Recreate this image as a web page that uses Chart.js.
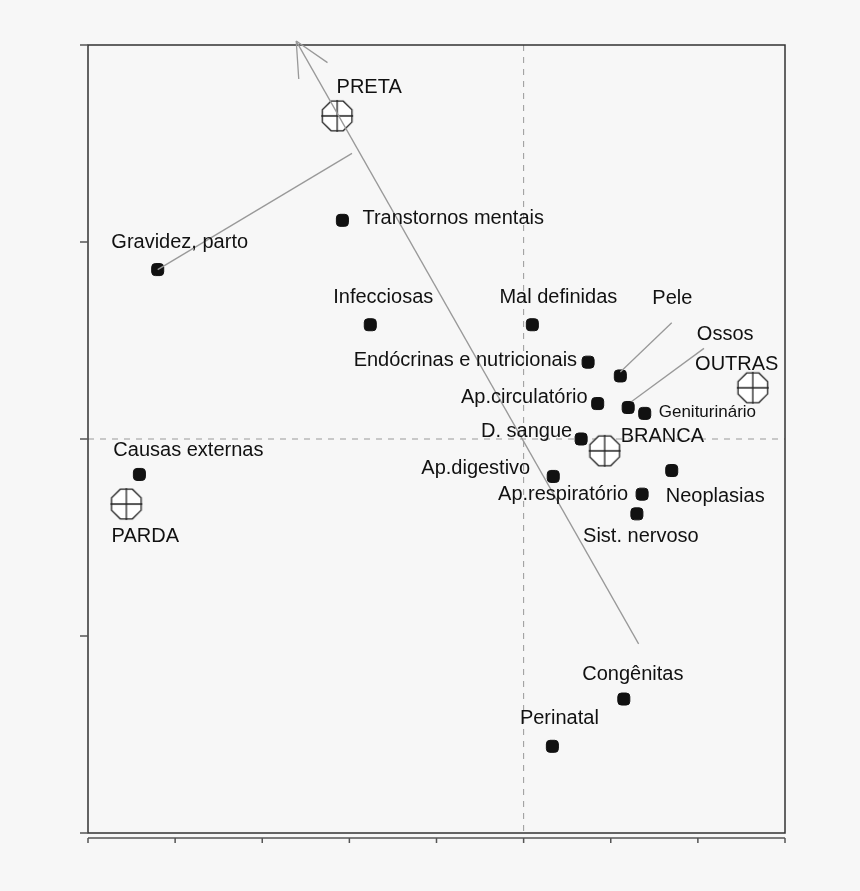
<!DOCTYPE html>
<html>
<head>
<meta charset="utf-8">
<script src="https://cdn.jsdelivr.net/npm/chart.js@4"></script>
<style>
  html, body { margin: 0; padding: 0; background: #f7f7f7; }
  #wrap { width: 860px; height: 891px; }
</style>
</head>
<body>
<div id="wrap"><canvas id="c" width="860" height="891"></canvas></div>
<script>
// categories (causes of death) and their coordinates
const causes = ["Transtornos mentais", "Gravidez, parto", "Infecciosas", "Mal definidas",
  "Endócrinas e nutricionais", "Pele", "Ap.circulatório", "Ossos", "Geniturinário",
  "D. sangue", "Causas externas", "Ap.digestivo", "Neoplasias", "Ap.respiratório",
  "Sist. nervoso", "Congênitas", "Perinatal"];
const causeX = [-2.08, -4.20, -1.76, 0.10, 0.74, 1.11, 0.85, 1.20, 1.39, 0.66, -4.41, 0.34, 1.70, 1.36, 1.30, 1.15, 0.33];
const causeY = [1.11, 0.86, 0.58, 0.58, 0.39, 0.32, 0.18, 0.16, 0.13, 0.00, -0.18, -0.19, -0.16, -0.28, -0.38, -1.32, -1.56];

// race groups
const races = ["PRETA", "OUTRAS", "BRANCA", "PARDA"];
const raceX = [-2.14, 2.63, 0.93, -4.56];
const raceY = [1.64, 0.26, -0.06, -0.33];

// supplementary arrow and leader lines
const arrowX = [1.32, -2.61];
const arrowY = [-1.04, 2.02];
const leaders = [
  { x: [-4.20, -1.97], y: [0.86, 1.45] },
  { x: [1.11, 1.70], y: [0.34, 0.59] },
  { x: [1.24, 2.07], y: [0.19, 0.46] }
];

const xTicks = [-5, -4, -3, -2, -1, 0, 1, 2, 3];
const yTicks = [-2, -1, 0, 1, 2];

// label placement (pixel offsets, align, font size)
const causeLabelPos = [
  [20, -2, "left"], [22, -27, "center"], [13, -27, "center"], [26, -27, "center"],
  [-11, -2, "right"], [52, -77, "center"], [-10, -6, "right"], [97, -73, "center"],
  [14, -1, "left", 17], [-9, -8, "right"], [49, -24, "center"], [-23, -8, "right"],
  [-6, 26, "left"], [-14, 0, "right"], [4, 23, "center"], [9, -25, "center"], [7, -28, "center"]
];
const raceLabelPos = [[32, -28, "center"], [-16, -23, "center"], [16, -14, "left"], [19, 32, "center"]];

// octagon marker with a cross
const oct = document.createElement("canvas");
oct.width = 36; oct.height = 36;
(function () {
  const g = oct.getContext("2d");
  const cx = 18, cy = 18, r = 16;
  g.beginPath();
  for (let i = 0; i < 8; i++) {
    const a = Math.PI / 8 + i * Math.PI / 4;
    const px = cx + r * Math.cos(a), py = cy + r * Math.sin(a);
    i ? g.lineTo(px, py) : g.moveTo(px, py);
  }
  g.closePath();
  g.fillStyle = "#fff";
  g.fill();
  g.lineWidth = 1.3;
  g.strokeStyle = "#222";
  g.stroke();
  g.beginPath();
  g.moveTo(cx - r, cy); g.lineTo(cx + r, cy);
  g.moveTo(cx, cy - r); g.lineTo(cx, cy + r);
  g.stroke();
})();

const toPts = (xs, ys) => xs.map((x, i) => ({ x: x, y: ys[i] }));

const decor = {
  id: "decor",
  beforeDatasetsDraw(chart) {
    const { ctx, chartArea: a, scales: { x, y } } = chart;
    ctx.save();
    // dashed reference lines
    ctx.strokeStyle = "#999";
    ctx.lineWidth = 1;
    ctx.setLineDash([6, 6]);
    ctx.beginPath();
    ctx.moveTo(x.getPixelForValue(0), a.top); ctx.lineTo(x.getPixelForValue(0), a.bottom);
    ctx.moveTo(a.left, y.getPixelForValue(0)); ctx.lineTo(a.right, y.getPixelForValue(0));
    ctx.stroke();
    ctx.setLineDash([]);
    // frame
    ctx.strokeStyle = "#333";
    ctx.lineWidth = 1.5;
    ctx.strokeRect(a.left, a.top, a.right - a.left, a.bottom - a.top);
    ctx.strokeStyle = "#555";
    ctx.beginPath();
    ctx.moveTo(a.left, a.bottom + 5); ctx.lineTo(a.right, a.bottom + 5);
    xTicks.forEach(t => {
      const px = x.getPixelForValue(t);
      ctx.moveTo(px, a.bottom + 5); ctx.lineTo(px, a.bottom + 10);
    });
    yTicks.forEach(t => {
      const py = y.getPixelForValue(t);
      ctx.moveTo(a.left - 8, py); ctx.lineTo(a.left, py);
    });
    ctx.stroke();
    ctx.restore();
  },
  afterDatasetsDraw(chart) {
    const { ctx, scales: { x, y } } = chart;
    ctx.save();
    // arrowhead
    const x0 = x.getPixelForValue(arrowX[0]), y0 = y.getPixelForValue(arrowY[0]);
    const x1 = x.getPixelForValue(arrowX[1]), y1 = y.getPixelForValue(arrowY[1]);
    const ang = Math.atan2(y1 - y0, x1 - x0);
    ctx.strokeStyle = "#999";
    ctx.lineWidth = 1.3;
    ctx.beginPath();
    [0.45, -0.45].forEach(d => {
      ctx.moveTo(x1, y1);
      ctx.lineTo(x1 - 38 * Math.cos(ang + d), y1 - 38 * Math.sin(ang + d));
    });
    ctx.stroke();
    // labels
    ctx.fillStyle = "#111";
    ctx.textBaseline = "middle";
    const put = (names, xs, ys, pos) => names.forEach((n, i) => {
      const p = pos[i];
      ctx.font = (p[3] || 20) + "px 'Liberation Sans', Arial, sans-serif";
      ctx.textAlign = p[2];
      ctx.fillText(n, x.getPixelForValue(xs[i]) + p[0], y.getPixelForValue(ys[i]) + p[1]);
    });
    put(causes, causeX, causeY, causeLabelPos);
    put(races, raceX, raceY, raceLabelPos);
    ctx.restore();
  }
};

const lineSet = (xs, ys) => ({
  type: "line", data: toPts(xs, ys), borderColor: "#999", borderWidth: 1.3,
  pointRadius: 0, showLine: true, fill: false, clip: false
});

new Chart(document.getElementById("c"), {
  type: "scatter",
  data: {
    datasets: [
      lineSet(arrowX, arrowY),
      ...leaders.map(l => lineSet(l.x, l.y)),
      {
        data: toPts(causeX, causeY), pointStyle: "rectRounded", pointRadius: 7,
        backgroundColor: "#111", borderColor: "#111", borderWidth: 1
      },
      {
        data: toPts(raceX, raceY), pointStyle: oct, pointRadius: 18
      }
    ]
  },
  options: {
    responsive: false,
    animation: false,
    events: [],
    layout: { padding: { left: 80, right: 75, top: 45, bottom: 50 } },
    plugins: { legend: { display: false }, tooltip: { enabled: false } },
    scales: {
      x: { min: -5, max: 3, ticks: { display: false }, grid: { display: false }, border: { display: false } },
      y: { min: -2, max: 2, ticks: { display: false }, grid: { display: false }, border: { display: false } }
    }
  },
  plugins: [decor]
});
</script>
</body>
</html>
